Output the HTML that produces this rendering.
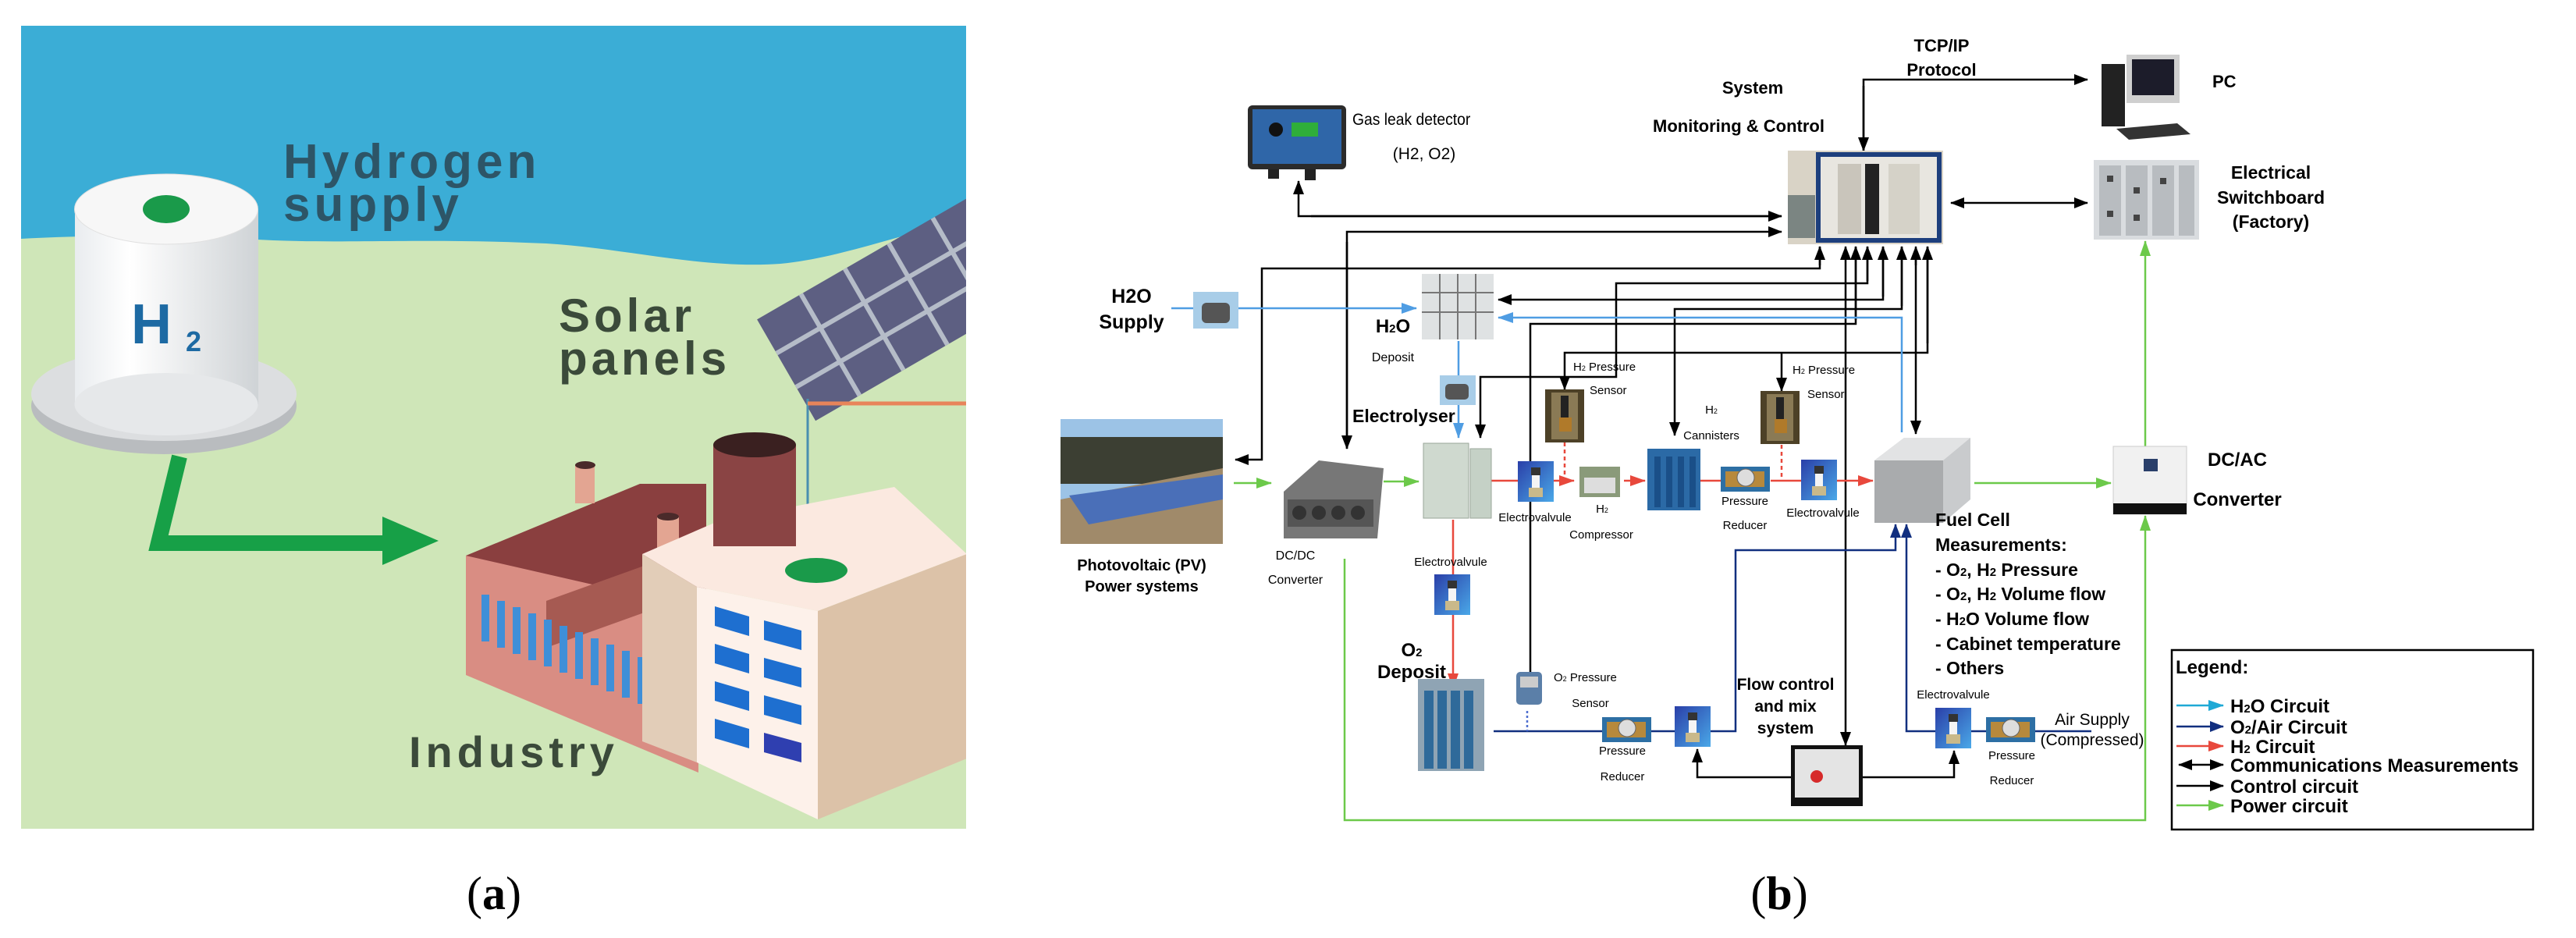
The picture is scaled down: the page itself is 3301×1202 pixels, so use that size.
<!DOCTYPE html>
<html><head><meta charset="utf-8"><style>
html,body{margin:0;padding:0;background:#fff}
svg{display:block}
text{font-family:"Liberation Sans",sans-serif}
.b{font-weight:bold}
</style></head><body>
<svg width="3301" height="1202" viewBox="0 0 3301 1202" xmlns="http://www.w3.org/2000/svg">
<defs>
<clipPath id="pa"><rect x="27" y="33" width="1211" height="1029"/></clipPath>
<marker id="akL" markerWidth="18" markerHeight="14" refX="17" refY="7" orient="auto" markerUnits="userSpaceOnUse"><path d="M0,0 L18,7 L0,14 Z" fill="#000"/></marker>
<marker id="akS" markerWidth="18" markerHeight="14" refX="1" refY="7" orient="auto" markerUnits="userSpaceOnUse"><path d="M18,0 L0,7 L18,14 Z" fill="#000"/></marker>
<marker id="ar" markerWidth="20" markerHeight="14" refX="19" refY="7" orient="auto" markerUnits="userSpaceOnUse"><path d="M0,0 L20,7 L0,14 Z" fill="#e8483c"/></marker>
<marker id="ab" markerWidth="20" markerHeight="14" refX="19" refY="7" orient="auto" markerUnits="userSpaceOnUse"><path d="M0,0 L20,7 L0,14 Z" fill="#4f9de3"/></marker>
<marker id="ac" markerWidth="20" markerHeight="14" refX="19" refY="7" orient="auto" markerUnits="userSpaceOnUse"><path d="M0,0 L20,7 L0,14 Z" fill="#1fa9d6"/></marker>
<marker id="an" markerWidth="18" markerHeight="14" refX="17" refY="7" orient="auto" markerUnits="userSpaceOnUse"><path d="M0,0 L18,7 L0,14 Z" fill="#112f7f"/></marker>
<marker id="ag" markerWidth="20" markerHeight="14" refX="19" refY="7" orient="auto" markerUnits="userSpaceOnUse"><path d="M0,0 L20,7 L0,14 Z" fill="#6cc94a"/></marker>
<linearGradient id="vg" x1="0" y1="0" x2="1" y2="1"><stop offset="0" stop-color="#2a3fa8"/><stop offset="1" stop-color="#4aa8e8"/></linearGradient>
<linearGradient id="cyl" x1="0" x2="1"><stop offset="0" stop-color="#e9ecef"/><stop offset="0.3" stop-color="#fff"/><stop offset="1" stop-color="#cfd3d6"/></linearGradient>
<g id="valve"><rect width="46" height="52" fill="url(#vg)"/><rect x="17" y="8" width="12" height="10" fill="#333"/><rect x="18" y="18" width="10" height="16" fill="#f4f4f4"/><rect x="14" y="34" width="18" height="12" fill="#c9b98a"/></g>
<g id="sensor"><rect width="50" height="68" fill="#4d4127"/><rect x="8" y="4" width="34" height="60" fill="#8a7a55"/><rect x="20" y="8" width="10" height="40" fill="#222"/><rect x="18" y="36" width="16" height="18" fill="#b07a2a"/></g>
<g id="reducer"><rect width="63" height="32" fill="#2d6fa4"/><rect x="6" y="6" width="50" height="20" fill="#b7893c"/><circle cx="32" cy="14" r="11" fill="#ddd" stroke="#666"/></g>
</defs>

<!-- ================= PANEL A ================= -->
<g clip-path="url(#pa)">
<rect x="27" y="33" width="1211" height="1029" fill="#cfe6b8"/>
<path d="M27,33 H1238 V283 C1150,300 1080,330 1000,338 C900,345 800,318 700,312 C550,305 450,312 350,308 C200,300 100,302 27,306 Z" fill="#3badd6"/>
<text x="363" y="228" font-size="62" class="b" fill="#2d5567" letter-spacing="5">Hydrogen</text>
<text x="363" y="283" font-size="62" class="b" fill="#2d5567" letter-spacing="5">supply</text>
<!-- solar panels -->
<g transform="translate(1135,395) rotate(-30)">
<rect x="-150" y="-70" width="340" height="150" fill="#5d5f82"/>
<g stroke="#b5bcc8" stroke-width="6">
<line x1="-150" y1="-20" x2="190" y2="-20"/><line x1="-150" y1="30" x2="190" y2="30"/>
<line x1="-85" y1="-70" x2="-85" y2="80"/><line x1="-20" y1="-70" x2="-20" y2="80"/><line x1="45" y1="-70" x2="45" y2="80"/><line x1="110" y1="-70" x2="110" y2="80"/>
</g></g>
<text x="716" y="425" font-size="60" class="b" fill="#3b4a3a" letter-spacing="5">Solar</text>
<text x="716" y="480" font-size="60" class="b" fill="#3b4a3a" letter-spacing="5">panels</text>
<!-- H2 cylinder -->
<ellipse cx="210" cy="520" rx="170" ry="62" fill="#b9bcbf"/>
<ellipse cx="210" cy="505" rx="170" ry="60" fill="#dcdee0"/>
<rect x="96" y="268" width="235" height="250" fill="url(#cyl)"/>
<ellipse cx="213" cy="518" rx="117.5" ry="40" fill="#e6e8ea"/>
<ellipse cx="213" cy="268" rx="117.5" ry="45" fill="#f7f7f7" stroke="#e0e0e0"/>
<ellipse cx="213" cy="268" rx="30" ry="18" fill="#1a9a4a"/>
<text x="168" y="440" font-size="72" class="b" fill="#1d6aa3">H</text>
<text x="238" y="450" font-size="36" class="b" fill="#1d6aa3">2</text>
<!-- green arrow -->
<path d="M230,585 L203,696 L520,696" fill="none" stroke="#17a047" stroke-width="20"/>
<path d="M490,662 L562,693 L490,724 Z" fill="#17a047"/>
<!-- factory -->
<line x1="1035" y1="511" x2="1035" y2="700" stroke="#4a8fb0" stroke-width="3"/>
<line x1="1035" y1="517" x2="1238" y2="517" stroke="#e8845a" stroke-width="5"/>
<polygon points="597,712 820,620 905,620 905,760 597,840" fill="#8a3f3f"/>
<polygon points="597,712 597,865 895,990 895,780" fill="#d98d83"/>
<polygon points="700,770 895,700 895,760 700,830" fill="#a65a52"/>
<rect x="737" y="595" width="25" height="50" fill="#e3a592"/><ellipse cx="750" cy="596" rx="13" ry="5" fill="#4a2a2a"/>
<rect x="842" y="662" width="28" height="45" fill="#e3a592"/><ellipse cx="856" cy="662" rx="14" ry="5" fill="#4a2a2a"/>
<g fill="#3f8fd8"><rect x="617" y="762" width="10" height="60"/><rect x="637" y="770" width="10" height="60"/><rect x="657" y="778" width="10" height="60"/><rect x="677" y="786" width="10" height="60"/><rect x="697" y="794" width="10" height="60"/><rect x="717" y="802" width="10" height="60"/><rect x="737" y="810" width="10" height="60"/><rect x="757" y="818" width="10" height="60"/><rect x="777" y="826" width="10" height="60"/><rect x="797" y="834" width="10" height="60"/><rect x="817" y="842" width="10" height="60"/><rect x="837" y="850" width="10" height="60"/><rect x="857" y="858" width="10" height="60"/></g>
<polygon points="823,710 920,668 1146,624 1239,710 1048,783 893,752" fill="#fbe9e0"/>
<polygon points="893,752 1048,783 1048,1050 893,977" fill="#fdf1ea"/>
<polygon points="1048,783 1239,710 1239,972 1048,1050" fill="#dcc2a8"/>
<polygon points="823,710 893,752 893,977 823,950" fill="#e2cdb8"/>
<path d="M914,570 L1020,570 L1020,700 L914,700 Z" fill="#8a4444"/>
<ellipse cx="967" cy="570" rx="53" ry="16" fill="#3a2020"/>
<ellipse cx="1046" cy="731" rx="40" ry="16" fill="#1a9a4a"/>
<g fill="#1e6fd0">
<polygon points="916,777 960,790 960,815 916,802"/><polygon points="979,795 1027,808 1027,833 979,820"/>
<polygon points="916,825 960,838 960,863 916,850"/><polygon points="979,843 1027,856 1027,881 979,868"/>
<polygon points="916,873 960,886 960,911 916,898"/><polygon points="979,891 1027,904 1027,929 979,916"/>
<polygon points="916,921 960,934 960,959 916,946"/><polygon points="979,939 1027,952 1027,977 979,964" fill="#2f3fb0"/>
</g>
<text x="524" y="983" font-size="56" class="b" fill="#3b4a3a" letter-spacing="6">Industry</text>
</g>
<text x="633" y="1165" font-size="60" text-anchor="middle" style="font-family:'Liberation Serif',serif">(<tspan font-weight="bold">a</tspan>)</text>
<text x="2280" y="1165" font-size="60" text-anchor="middle" style="font-family:'Liberation Serif',serif">(<tspan font-weight="bold">b</tspan>)</text>

<!-- ================= PANEL B ================= -->
<g fill="none" stroke="#000" stroke-width="2.5">
<polyline points="2388,193 2388,102 2675,102" marker-end="url(#akL)"/>
<line x1="2388" y1="110" x2="2388" y2="193" marker-end="url(#akL)"/>
<line x1="2500" y1="260" x2="2675" y2="260" marker-start="url(#akS)" marker-end="url(#akL)"/>
<polyline points="2283,277 1664,277 1664,232" marker-end="url(#akL)"/>
<line x1="1680" y1="277" x2="2283" y2="277" marker-end="url(#akL)"/>
<polyline points="1726,575 1726,297 2283,297" marker-end="url(#akL)"/>
<line x1="1726" y1="310" x2="1726" y2="575" marker-end="url(#akL)"/>
<polyline points="2332,316 2332,344 1617,344 1617,589 1583,589" marker-end="url(#akL)"/>
<line x1="2332" y1="340" x2="2332" y2="316" marker-end="url(#akL)"/>
<polyline points="2393,316 2393,363 2071,363 2071,483 1897,483 1897,561" marker-end="url(#akL)"/>
<line x1="2393" y1="360" x2="2393" y2="316" marker-end="url(#akL)"/>
<polyline points="2413,316 2413,384 1920,384" marker-end="url(#akL)"/>
<line x1="2413" y1="380" x2="2413" y2="316" marker-end="url(#akL)"/>
<polyline points="2437,316 2437,396 2146,396 2146,558" marker-end="url(#akL)"/>
<line x1="2437" y1="392" x2="2437" y2="316" marker-end="url(#akL)"/>
<polyline points="2378,316 2378,415 1961,415 1961,861"/>
<line x1="2378" y1="410" x2="2378" y2="316" marker-end="url(#akL)"/>
<polyline points="2470,316 2470,452 2005,452 2005,499" marker-end="url(#akL)"/>
<line x1="2283" y1="452" x2="2283" y2="501" marker-end="url(#akL)"/>
<line x1="2470" y1="440" x2="2470" y2="316" marker-end="url(#akL)"/>
<line x1="2365" y1="330" x2="2365" y2="955" marker-end="url(#akL)"/>
<line x1="2365" y1="330" x2="2365" y2="316" marker-end="url(#akL)"/>
<line x1="2455" y1="330" x2="2455" y2="556" marker-end="url(#akL)"/>
<line x1="2455" y1="340" x2="2455" y2="316" marker-end="url(#akL)"/>
<polyline points="2295,996 2175,996 2175,960" marker-end="url(#akL)"/>
<polyline points="2387,996 2504,996 2504,962" marker-end="url(#akL)"/>
</g>
<g fill="none" stroke="#4f9de3" stroke-width="2.5">
<line x1="1501" y1="395" x2="1815" y2="395" marker-end="url(#ab)"/>
<line x1="1869" y1="437" x2="1869" y2="481"/>
<line x1="1869" y1="519" x2="1869" y2="561" marker-end="url(#ab)"/>
<polyline points="2437,554 2437,407 1920,407" marker-end="url(#ab)"/>
</g>
<g fill="none" stroke="#e8483c" stroke-width="2.5">
<line x1="1911" y1="616" x2="1945" y2="616"/>
<line x1="1991" y1="616" x2="2017" y2="616" marker-end="url(#ar)"/>
<line x1="2081" y1="616" x2="2108" y2="616" marker-end="url(#ar)"/>
<line x1="2179" y1="616" x2="2205" y2="616"/>
<line x1="2269" y1="616" x2="2308" y2="616"/>
<line x1="2353" y1="616" x2="2400" y2="616" marker-end="url(#ar)"/>
<line x1="1862" y1="666" x2="1862" y2="736"/>
<line x1="1862" y1="788" x2="1862" y2="882" marker-end="url(#ar)"/>
<line x1="2005" y1="567" x2="2005" y2="616" stroke-dasharray="5,4"/>
<line x1="2283" y1="570" x2="2283" y2="616" stroke-dasharray="5,4"/>
</g>
<g fill="none" stroke="#112f7f" stroke-width="2.5">
<line x1="1914" y1="937" x2="2053" y2="937"/>
<line x1="2116" y1="937" x2="2146" y2="937"/>
<polyline points="2192,937 2224,937 2224,705 2429,705 2429,672" marker-end="url(#an)"/>
<polyline points="2480,937 2443,937 2443,672" marker-end="url(#an)"/>
<line x1="2525" y1="937" x2="2545" y2="937"/>
<line x1="2607" y1="937" x2="2680" y2="937"/>
<line x1="1957" y1="911" x2="1957" y2="937" stroke="#4f6fcf" stroke-dasharray="3,3"/>
</g>
<g fill="none" stroke="#6cc94a" stroke-width="2.5">
<line x1="1581" y1="619" x2="1629" y2="619" marker-end="url(#ag)"/>
<line x1="1773" y1="617" x2="1818" y2="617" marker-end="url(#ag)"/>
<polyline points="1723,716 1723,1051 2749,1051 2749,661" marker-end="url(#ag)"/>
<line x1="2530" y1="619" x2="2705" y2="619" marker-end="url(#ag)"/>
<line x1="2749" y1="572" x2="2749" y2="309" marker-end="url(#ag)"/>
</g>

<rect x="1599" y="135" width="126" height="82" rx="6" fill="#2b2b2b"/>
<rect x="1605" y="140" width="114" height="70" fill="#2f66a8"/>
<rect x="1655" y="157" width="34" height="18" fill="#2fae3a"/>
<circle cx="1635" cy="166" r="9" fill="#111"/>
<rect x="1625" y="217" width="14" height="12" fill="#222"/><rect x="1672" y="217" width="14" height="14" fill="#222"/>
<text x="1733" y="160" font-size="21" transform="translate(1733,0) scale(0.92,1) translate(-1733,0)">Gas leak detector</text>
<text x="1825" y="204" font-size="21" text-anchor="middle">(H2, O2)</text>

<text x="2246" y="120" font-size="22" class="b" text-anchor="middle">System</text>
<text x="2118" y="169" font-size="22" class="b">Monitoring &amp; Control</text>
<rect x="2291" y="193" width="199" height="120" fill="#d9d3c6"/>
<rect x="2291" y="250" width="35" height="55" fill="#7b8582"/>
<rect x="2330" y="198" width="155" height="110" fill="#e8e6e0" stroke="#1d3f7d" stroke-width="6"/>
<rect x="2390" y="210" width="18" height="90" fill="#222"/>
<rect x="2355" y="210" width="30" height="90" fill="#c9c5bb"/>
<rect x="2420" y="210" width="40" height="90" fill="#d5d2c8"/>

<text x="2488" y="66" font-size="22" class="b" text-anchor="middle">TCP/IP</text>
<text x="2488" y="97" font-size="22" class="b" text-anchor="middle">Protocol</text>
<rect x="2693" y="82" width="30" height="80" fill="#222"/>
<rect x="2725" y="70" width="68" height="62" fill="#cfcfcf"/>
<rect x="2732" y="76" width="54" height="46" fill="#1c1c2a"/>
<polygon points="2712,165 2790,158 2807,172 2728,179" fill="#333"/>
<text x="2835" y="112" font-size="22" class="b">PC</text>
<rect x="2683" y="205" width="135" height="102" fill="#d9dcdf"/>
<g fill="#b8bcc0"><rect x="2690" y="212" width="28" height="90"/><rect x="2724" y="212" width="28" height="90"/><rect x="2758" y="212" width="28" height="90"/><rect x="2792" y="212" width="20" height="90"/></g>
<g fill="#444"><rect x="2700" y="225" width="8" height="8"/><rect x="2734" y="240" width="8" height="8"/><rect x="2768" y="228" width="8" height="8"/><rect x="2700" y="270" width="8" height="8"/><rect x="2734" y="275" width="8" height="8"/></g>
<text x="2910" y="229" font-size="23" class="b" text-anchor="middle">Electrical</text>
<text x="2910" y="261" font-size="23" class="b" text-anchor="middle">Switchboard</text>
<text x="2910" y="292" font-size="23" class="b" text-anchor="middle">(Factory)</text>

<text x="1450" y="388" font-size="25" class="b" text-anchor="middle">H2O</text>
<text x="1450" y="421" font-size="25" class="b" text-anchor="middle">Supply</text>
<rect x="1529" y="374" width="58" height="47" fill="#a8cde8"/>
<rect x="1540" y="388" width="36" height="26" rx="6" fill="#555"/>
<rect x="1845" y="481" width="46" height="38" fill="#a8cde8"/>
<rect x="1852" y="492" width="30" height="20" rx="5" fill="#555"/>
<rect x="1822" y="351" width="92" height="84" fill="#dfe2e3"/>
<g stroke="#777" stroke-width="2"><line x1="1822" y1="375" x2="1914" y2="375"/><line x1="1822" y1="400" x2="1914" y2="400"/><line x1="1845" y1="351" x2="1845" y2="435"/><line x1="1868" y1="351" x2="1868" y2="435"/><line x1="1891" y1="351" x2="1891" y2="435"/></g>
<text x="1785" y="426" font-size="24" class="b" text-anchor="middle">H<tspan font-size="15">2</tspan>O</text>
<text x="1785" y="463" font-size="16" text-anchor="middle">Deposit</text>
<text x="1733" y="541" font-size="23" class="b">Electrolyser</text>
<rect x="1824" y="568" width="58" height="96" fill="#cfd9cf" stroke="#9aa69a"/>
<rect x="1884" y="575" width="27" height="89" fill="#c5d1c6" stroke="#9aa69a"/>

<rect x="1359" y="537" width="208" height="160" fill="#9cc3e6"/>
<rect x="1359" y="560" width="208" height="60" fill="#3c3f33"/>
<polygon points="1359,640 1567,600 1567,697 1359,697" fill="#a08a6a"/>
<polygon points="1370,635 1567,608 1567,640 1395,672" fill="#4a6fb8"/>
<text x="1463" y="731" font-size="20" class="b" text-anchor="middle">Photovoltaic (PV)</text>
<text x="1463" y="758" font-size="20" class="b" text-anchor="middle">Power systems</text>
<polygon points="1645,630 1690,590 1773,600 1765,690 1645,690" fill="#777"/>
<rect x="1650" y="640" width="110" height="35" fill="#555"/>
<g fill="#333"><circle cx="1665" cy="657" r="9"/><circle cx="1690" cy="657" r="9"/><circle cx="1715" cy="657" r="9"/><circle cx="1740" cy="657" r="9"/></g>
<text x="1660" y="717" font-size="16" text-anchor="middle">DC/DC</text>
<text x="1660" y="748" font-size="16" text-anchor="middle">Converter</text>

<use href="#valve" x="1945" y="591"/>
<use href="#valve" x="2308" y="589"/>
<use href="#valve" x="1838" y="736"/>
<use href="#valve" x="2146" y="905"/>
<use href="#valve" x="2480" y="907"/>
<use href="#sensor" x="1980" y="499"/>
<use href="#sensor" x="2256" y="501"/>
<use href="#reducer" x="2205" y="598"/>
<use href="#reducer" x="2053" y="919"/>
<use href="#reducer" x="2545" y="919"/>
<rect x="2024" y="598" width="52" height="39" fill="#8a9a7a"/><rect x="2030" y="612" width="40" height="20" fill="#ddd"/>
<rect x="2111" y="575" width="68" height="79" fill="#2b6aa6"/>
<g fill="#1a4f88"><rect x="2120" y="585" width="8" height="65"/><rect x="2135" y="585" width="8" height="65"/><rect x="2150" y="585" width="8" height="65"/><rect x="2165" y="585" width="8" height="65"/></g>

<g font-size="15">
<text x="2016" y="475">H<tspan font-size="9">2</tspan> Pressure</text>
<text x="2037" y="505">Sensor</text>
<text x="2297" y="479">H<tspan font-size="9">2</tspan> Pressure</text>
<text x="2316" y="510">Sensor</text>
<text x="1967" y="668" text-anchor="middle">Electrovalvule</text>
<text x="2053" y="657" text-anchor="middle">H<tspan font-size="9">2</tspan></text>
<text x="2052" y="690" text-anchor="middle">Compressor</text>
<text x="2193" y="530" text-anchor="middle">H<tspan font-size="9">2</tspan></text>
<text x="2193" y="563" text-anchor="middle">Cannisters</text>
<text x="2236" y="647" text-anchor="middle">Pressure</text>
<text x="2236" y="678" text-anchor="middle">Reducer</text>
<text x="2336" y="662" text-anchor="middle">Electrovalvule</text>
<text x="1859" y="725" text-anchor="middle">Electrovalvule</text>
<text x="1991" y="873">O<tspan font-size="9">2</tspan> Pressure</text>
<text x="2038" y="906" text-anchor="middle">Sensor</text>
<text x="2079" y="967" text-anchor="middle">Pressure</text>
<text x="2079" y="1000" text-anchor="middle">Reducer</text>
<text x="2503" y="895" text-anchor="middle">Electrovalvule</text>
<text x="2578" y="973" text-anchor="middle">Pressure</text>
<text x="2578" y="1005" text-anchor="middle">Reducer</text>
</g>
<text x="1809" y="841" font-size="24" class="b" text-anchor="middle">O<tspan font-size="15">2</tspan></text>
<text x="1809" y="869" font-size="24" class="b" text-anchor="middle">Deposit</text>
<rect x="1817" y="870" width="85" height="118" fill="#8fa4b4"/>
<g fill="#2f6a9a"><rect x="1825" y="885" width="12" height="100"/><rect x="1842" y="885" width="12" height="100"/><rect x="1859" y="885" width="12" height="100"/><rect x="1876" y="885" width="12" height="100"/></g>
<rect x="1943" y="861" width="33" height="42" rx="5" fill="#5b7fa8"/><rect x="1948" y="867" width="23" height="14" fill="#ccc"/>
<text x="2288" y="884" font-size="21" class="b" text-anchor="middle">Flow control</text>
<text x="2288" y="912" font-size="21" class="b" text-anchor="middle">and mix</text>
<text x="2288" y="940" font-size="21" class="b" text-anchor="middle">system</text>
<rect x="2295" y="955" width="92" height="78" fill="#111"/>
<rect x="2300" y="960" width="82" height="62" fill="#e4e4e4"/>
<circle cx="2328" cy="995" r="8" fill="#d62a2a"/>
<text x="2681" y="929" font-size="21" text-anchor="middle">Air Supply</text>
<text x="2681" y="955" font-size="21" text-anchor="middle">(Compressed)</text>

<polygon points="2402,590 2440,561 2525,561 2525,640 2490,670 2402,670" fill="#c9cbcd"/>
<rect x="2402" y="590" width="88" height="80" fill="#a9abad"/>
<polygon points="2402,590 2440,561 2525,561 2490,590" fill="#e2e3e4"/>
<g font-size="23" class="b">
<text x="2480" y="674">Fuel Cell</text>
<text x="2480" y="706">Measurements:</text>
<text x="2480" y="738">- O<tspan font-size="15">2</tspan>, H<tspan font-size="15">2</tspan> Pressure</text>
<text x="2480" y="769">- O<tspan font-size="15">2</tspan>, H<tspan font-size="15">2</tspan> Volume flow</text>
<text x="2480" y="801">- H<tspan font-size="15">2</tspan>O Volume flow</text>
<text x="2480" y="833">- Cabinet temperature</text>
<text x="2480" y="864">- Others</text>
</g>
<rect x="2708" y="572" width="94" height="87" fill="#f1f1f1" stroke="#ccc"/>
<rect x="2708" y="645" width="94" height="14" fill="#111"/>
<rect x="2747" y="588" width="18" height="16" fill="#2a3f6a"/>
<text x="2867" y="597" font-size="24" class="b" text-anchor="middle">DC/AC</text>
<text x="2867" y="648" font-size="24" class="b" text-anchor="middle">Converter</text>

<rect x="2783" y="833" width="463" height="230" fill="#fff" stroke="#000" stroke-width="2.5"/>
<text x="2788" y="863" font-size="24" class="b">Legend:</text>
<line x1="2789" y1="904" x2="2849" y2="904" stroke="#1fa9d6" stroke-width="2.5" marker-end="url(#ac)"/>
<line x1="2789" y1="931" x2="2849" y2="931" stroke="#112f7f" stroke-width="2.5" marker-end="url(#an)"/>
<line x1="2789" y1="956" x2="2849" y2="956" stroke="#e8483c" stroke-width="2.5" marker-end="url(#ar)"/>
<line x1="2792" y1="980" x2="2849" y2="980" stroke="#000" stroke-width="2.5" marker-start="url(#akS)" marker-end="url(#akL)"/>
<line x1="2789" y1="1007" x2="2849" y2="1007" stroke="#000" stroke-width="2.5" marker-end="url(#akL)"/>
<line x1="2789" y1="1032" x2="2849" y2="1032" stroke="#6cc94a" stroke-width="2.5" marker-end="url(#ag)"/>
<g font-size="24" class="b">
<text x="2858" y="913">H<tspan font-size="15">2</tspan>O Circuit</text>
<text x="2858" y="940">O<tspan font-size="15">2</tspan>/Air Circuit</text>
<text x="2858" y="965">H<tspan font-size="15">2</tspan> Circuit</text>
<text x="2858" y="989">Communications Measurements</text>
<text x="2858" y="1016">Control circuit</text>
<text x="2858" y="1041">Power circuit</text>
</g>
</svg>
</body></html>
